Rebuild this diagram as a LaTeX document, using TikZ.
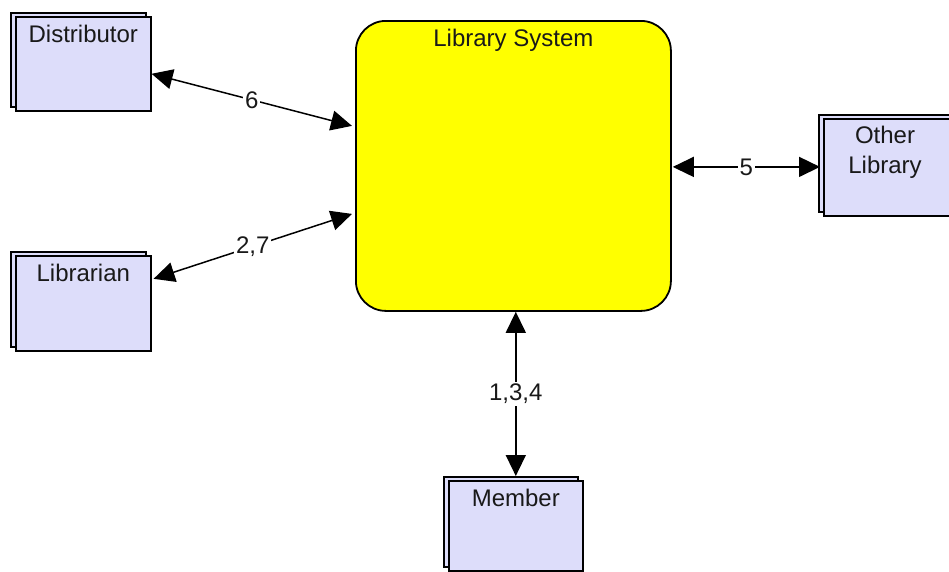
\documentclass[tikz,border=0pt]{standalone}
\usepackage{fontspec}
\setmainfont{Liberation Sans}
\usetikzlibrary{arrows.meta,shadows}
\definecolor{extfill}{RGB}{221,221,250}
\definecolor{sysfill}{RGB}{255,255,0}
\begin{document}
\begin{tikzpicture}[x=1pt,y=-1pt,
  font=\fontsize{24}{30}\selectfont,
  extbox/.style={draw=black,line width=1.6pt,fill=extfill,rectangle,
    anchor=north west,inner sep=0pt,
    copy shadow={shadow xshift=-5pt,shadow yshift=4pt,draw=black,fill=extfill,line width=1.6pt}},
  sysbox/.style={draw=black,line width=1.8pt,fill=sysfill,rounded corners=30pt,
    anchor=north west,inner sep=0pt,minimum width=315pt,minimum height=290pt},
  title/.style={anchor=center,inner sep=0pt,text=black!90,align=center},
  flow/.style={line width=1.5pt,{Triangle[length=21pt,width=20pt]}-{Triangle[length=21pt,width=20pt]}},
  flowlabel/.style={fill=white,inner sep=2pt,text=black!90}]
\clip (0,0) rectangle (949,571);
\fill[white] (0,0) rectangle (949,571);

% central process
\node[sysbox] (lib) at (355,20) {};
\node[title] (libtxt) at ([yshift=-20pt]lib.north) {Library System};

% external entities
\node[extbox,minimum width=135pt,minimum height=94pt] (dist) at (15,16) {};
\node[title] (disttxt) at ([yshift=-18pt]dist.north) {Distributor};

\node[extbox,minimum width=135pt,minimum height=95pt] (lbn) at (15,255) {};
\node[title] (lbntxt) at ([yshift=-18pt]lbn.north) {Librarian};

\node[extbox,minimum width=140pt,minimum height=97pt] (other) at (823,118) {};
\node[title] (othertxt) at (885,152) {Other\\Library};

\node[extbox,minimum width=134pt,minimum height=90pt] (mem) at (448,480) {};
\node[title] (memtxt) at ([yshift=-18pt]mem.north) {Member};

% data flows
\coordinate (d1) at ([yshift=-10pt]dist.east);
\coordinate (d2) at ([xshift=-3pt,yshift=40pt]lib.west);
\draw[flow] (d1) -- node[flowlabel] (l6) {6} (d2);

\coordinate (b1) at ([xshift=2pt,yshift=24.5pt]lbn.east);
\coordinate (b2) at ([xshift=-3pt,yshift=-48pt]lib.west);
\draw[flow] (b1) -- node[flowlabel] (l27) {2,7} (b2);

\coordinate (o1) at ([xshift=1pt,yshift=-1pt]lib.east);
\coordinate (o2) at ([xshift=-3pt]o1 -| other.west);
\draw[flow] (o1) -- node[flowlabel] (l5) {5} (o2);

\coordinate (m1) at (lib.south -| mem.north);
\coordinate (m2) at ([yshift=4pt]mem.north);
\draw[flow] (m1) -- node[flowlabel] (l134) {1,3,4} (m2);
\end{tikzpicture}
\end{document}
